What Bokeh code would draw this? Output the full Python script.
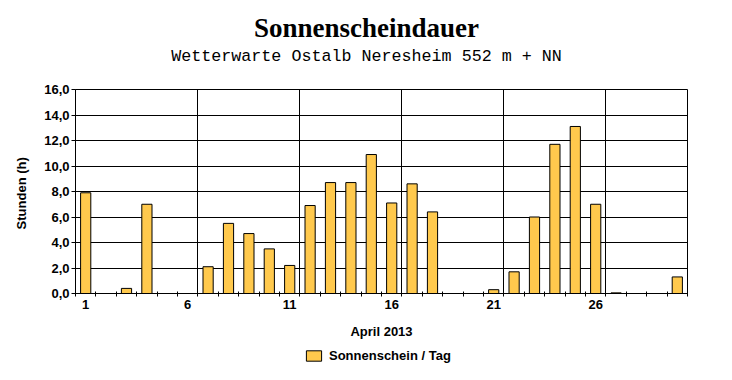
from bokeh.plotting import figure
from bokeh.models import (ColumnDataSource, FixedTicker, Legend, LegendItem, Range1d)
from bokeh.layouts import column
from bokeh.core.properties import value
from bokeh.embed import file_html
from bokeh.resources import INLINE

days = list(range(1, 31))
sunshine = [7.9, 0.0, 0.4, 7.0, 0.0, 0.0, 2.1, 5.5, 4.7, 3.5,
            2.2, 6.9, 8.7, 8.7, 10.9, 7.1, 8.6, 6.4, 0.0, 0.0,
            0.3, 1.7, 6.0, 11.7, 13.1, 7.0, 0.05, 0.0, 0.0, 1.3]
x_tick_days = [1, 6, 11, 16, 21, 26]
y_ticks = [0, 2, 4, 6, 8, 10, 12, 14, 16]
y_tick_labels = ["0,0", "2,0", "4,0", "6,0", "8,0", "10,0", "12,0", "14,0", "16,0"]

title_text = "Sonnenscheindauer"
subtitle_text = "Wetterwarte Ostalb Neresheim 552 m + NN"
x_label_text = "April 2013"
y_label_text = "Stunden  (h)"
legend_text = "Sonnenschein / Tag"

FONT = "Liberation Sans"
BAR_FILL = "#FFC94D"
LEFT, RIGHT = 75, 45


def strip_fig(h, xr, yr):
    f = figure(width=732, height=h, output_backend="svg", toolbar_location=None,
               x_range=xr, y_range=yr, x_axis_type=None, y_axis_type=None,
               min_border_left=LEFT, min_border_right=RIGHT, min_border_top=0, min_border_bottom=0,
               title=None)
    f.outline_line_color = None
    f.background_fill_color = "white"
    f.border_fill_color = "white"
    f.xgrid.visible = False
    f.ygrid.visible = False
    return f


src = ColumnDataSource(dict(day=days, val=sunshine))

# ---- header (title + subtitle); x in canvas pixels, y from the top ----
head = strip_fig(80, Range1d(LEFT, 732 - RIGHT), Range1d(80, 0))
head.text(x=[366], y=[27], text=[title_text], text_align="center", text_baseline="middle",
          text_font=value("Liberation Serif"), text_font_style="bold", text_font_size="27px",
          text_color="black")
head.text(x=[366], y=[56], text=[subtitle_text], text_align="center", text_baseline="middle",
          text_font=value("Liberation Mono"), text_font_size="16.7px", text_color="black")

# ---- main chart ----
p = figure(frame_width=612, frame_height=204, output_backend="svg", toolbar_location=None,
           x_range=Range1d(0.5, 30.5), y_range=Range1d(0, 16),
           min_border_left=LEFT, min_border_right=RIGHT, min_border_top=9, min_border_bottom=50,
           title=None)
p.background_fill_color = "white"
p.border_fill_color = "white"
p.outline_line_color = "black"
p.outline_line_width = 1

r = p.vbar(x="day", top="val", width=0.5, bottom=0, source=src,
           fill_color=BAR_FILL, line_color="black", line_width=1)

p.xgrid.ticker = FixedTicker(ticks=[d + 0.5 for d in x_tick_days[1:]])
p.xgrid.grid_line_color = "black"
p.xgrid.grid_line_width = 1
p.ygrid.ticker = FixedTicker(ticks=y_ticks)
p.ygrid.grid_line_color = "black"
p.ygrid.grid_line_width = 1

xa = p.xaxis[0]
xa.ticker = FixedTicker(ticks=x_tick_days, minor_ticks=[d - 0.5 for d in days] + [30.5])
xa.major_label_overrides = {d: str(d) for d in x_tick_days}
xa.major_tick_in = 0
xa.major_tick_out = 0
xa.minor_tick_in = 2
xa.minor_tick_out = 3
xa.minor_tick_line_color = "black"
xa.axis_line_color = "black"
xa.major_label_standoff = 3
xa.major_label_text_font = FONT
xa.major_label_text_font_style = "bold"
xa.major_label_text_font_size = "13px"
xa.major_label_text_color = "black"
xa.axis_label = x_label_text
xa.axis_label_standoff = 12
xa.axis_label_text_font = FONT
xa.axis_label_text_font_style = "bold"
xa.axis_label_text_font_size = "13px"
xa.axis_label_text_color = "black"

ya = p.yaxis[0]
ya.ticker = FixedTicker(ticks=y_ticks, minor_ticks=[])
ya.major_label_overrides = {t: l for t, l in zip(y_ticks, y_tick_labels)}
ya.major_tick_in = 0
ya.major_tick_out = 4
ya.major_tick_line_color = "black"
ya.minor_tick_line_color = None
ya.axis_line_color = "black"
ya.major_label_standoff = 2
ya.major_label_text_font = FONT
ya.major_label_text_font_style = "bold"
ya.major_label_text_font_size = "13px"
ya.major_label_text_color = "black"
ya.axis_label = y_label_text
ya.axis_label_standoff = 12
ya.axis_label_text_font = FONT
ya.axis_label_text_font_style = "bold"
ya.axis_label_text_font_size = "13px"
ya.axis_label_text_color = "black"

# ---- legend strip (renderer shares the data but lies far outside this strip's view) ----
foot = strip_fig(37, Range1d(-5000, -4388), Range1d(5000, 5037))
lr = foot.vbar(x="day", top="val", width=0.5, bottom=0, source=src,
               fill_color=BAR_FILL, line_color="black", line_width=1)
legend = Legend(items=[LegendItem(label=legend_text, renderers=[lr])],
                location=(229, 17), padding=0, margin=0, spacing=0,
                glyph_width=19, glyph_height=13, label_height=13, label_standoff=6,
                border_line_color=None, background_fill_alpha=0,
                label_text_font=FONT, label_text_font_style="bold", label_text_font_size="13px",
                label_text_color="black")
foot.add_layout(legend, "center")

layout = column(head, p, foot, spacing=0)
open("out.html", "w").write(file_html(layout, INLINE))
